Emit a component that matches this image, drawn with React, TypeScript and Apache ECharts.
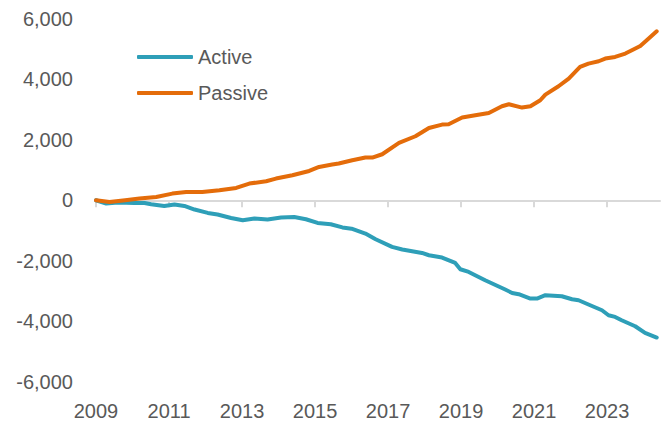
import React, { useEffect, useRef } from "react";
import * as echarts from "echarts";

// Cumulative flows (USD bn), [year, value]
const activeData: [number, number][] = [
  [2009.0, 0], [2009.28, -109], [2009.6, -76], [2010.05, -89], [2010.33, -89],
  [2010.51, -132], [2010.87, -189], [2011.15, -142], [2011.42, -189], [2011.7, -308],
  [2012.06, -420], [2012.33, -473], [2012.7, -586], [2013.02, -662], [2013.34, -606],
  [2013.7, -639], [2014.07, -573], [2014.43, -553], [2014.75, -629], [2015.07, -751],
  [2015.43, -794], [2015.75, -900], [2016.0, -940], [2016.38, -1102], [2016.66, -1291],
  [2017.11, -1545], [2017.39, -1632], [2017.93, -1744], [2018.12, -1821], [2018.48, -1897],
  [2018.84, -2075], [2018.98, -2284], [2019.21, -2373], [2019.66, -2648], [2020.21, -2956],
  [2020.4, -3068], [2020.58, -3111], [2020.9, -3254], [2021.08, -3254], [2021.31, -3144],
  [2021.76, -3178], [2022.04, -3277], [2022.22, -3310], [2022.49, -3452], [2022.86, -3641],
  [2023.04, -3807], [2023.22, -3862], [2023.4, -3972], [2023.77, -4171], [2024.04, -4392],
  [2024.36, -4545],
];

const passiveData: [number, number][] = [
  [2009.0, 0], [2009.37, -55], [2009.8, 0], [2010.19, 55], [2010.65, 110],
  [2011.09, 220], [2011.47, 275], [2011.91, 275], [2012.38, 330], [2012.84, 408],
  [2013.2, 553], [2013.66, 629], [2013.93, 718], [2014.38, 828], [2014.84, 970],
  [2015.11, 1103], [2015.47, 1181], [2015.65, 1215], [2016.02, 1324], [2016.38, 1413],
  [2016.57, 1413], [2016.84, 1523], [2017.3, 1897], [2017.75, 2118], [2018.12, 2393],
  [2018.48, 2505], [2018.66, 2515], [2019.03, 2737], [2019.39, 2813], [2019.76, 2890],
  [2020.12, 3111], [2020.31, 3177], [2020.67, 3068], [2020.9, 3111], [2021.17, 3310],
  [2021.31, 3498], [2021.67, 3773], [2021.95, 4028], [2022.26, 4413], [2022.49, 4524],
  [2022.77, 4601], [2022.95, 4690], [2023.22, 4745], [2023.5, 4856], [2023.68, 4965],
  [2023.91, 5108], [2024.14, 5352], [2024.36, 5594],
];

const yearTicks = [2009, 2011, 2013, 2015, 2017, 2019, 2021, 2023];
const seriesNames = ["Active", "Passive"];
const seriesColors = ["#2E9FB8", "#E46C0A"];

const FONT = "'Liberation Sans Narrow', 'Arial Narrow', 'Liberation Sans', Arial, sans-serif";
const TEXT = "#595959";

export default function App() {
  const ref = useRef<HTMLDivElement>(null);
  useEffect(() => {
    if (!ref.current) return;
    const chart = echarts.init(ref.current, undefined, { renderer: "svg" });
    const xMin = 2009;
    const xMax = 2024.45;
    chart.setOption({
      animation: false,
      grid: { left: 96, right: 6, top: 19, bottom: 42.5, containLabel: false },
      legend: {
        orient: "vertical",
        left: 137,
        top: 46,
        padding: 0,
        icon: "roundRect",
        itemWidth: 56,
        itemHeight: 4,
        itemGap: 14,
        data: seriesNames,
        textStyle: { color: TEXT, fontSize: 20, fontFamily: FONT, lineHeight: 22 },
      },
      xAxis: [
        {
          type: "value",
          min: xMin,
          max: xMax,
          position: "bottom",
          axisLine: { onZero: true, lineStyle: { color: "#D9D9D9", width: 2 } },
          axisTick: {
            show: true,
            length: 7,
            customValues: yearTicks,
            lineStyle: { color: "#D9D9D9", width: 2 },
          },
          axisLabel: { show: false },
          splitLine: { show: false },
        },
        {
          type: "value",
          min: xMin,
          max: xMax,
          position: "bottom",
          axisLine: { show: false, onZero: false },
          axisTick: { show: false },
          splitLine: { show: false },
          axisLabel: {
            show: true,
            customValues: yearTicks,
            margin: 19,
            color: TEXT,
            fontSize: 20,
            fontFamily: FONT,
            formatter: (v: number) => String(Math.round(v)),
          },
        },
      ],
      yAxis: {
        type: "value",
        min: -6000,
        max: 6000,
        interval: 2000,
        axisLine: { show: false },
        axisTick: { show: false },
        splitLine: { show: false },
        axisLabel: {
          margin: 23,
          color: TEXT,
          fontSize: 20,
          fontFamily: FONT,
          formatter: (v: number) => v.toLocaleString("en-US"),
        },
      },
      series: [
        {
          name: seriesNames[0],
          type: "line",
          xAxisIndex: 0,
          data: activeData,
          showSymbol: false,
          symbol: "none",
          lineStyle: { color: seriesColors[0], width: 4, cap: "round", join: "round" },
          itemStyle: { color: seriesColors[0] },
          z: 3,
        },
        {
          name: seriesNames[1],
          type: "line",
          xAxisIndex: 0,
          data: passiveData,
          showSymbol: false,
          symbol: "none",
          lineStyle: { color: seriesColors[1], width: 4, cap: "round", join: "round" },
          itemStyle: { color: seriesColors[1] },
          z: 4,
        },
      ],
    });
    return () => chart.dispose();
  }, []);
  return (
    <div
      ref={ref}
      style={{ position: "fixed", left: 0, top: 0, width: 666, height: 424, background: "#fff" }}
    />
  );
}
